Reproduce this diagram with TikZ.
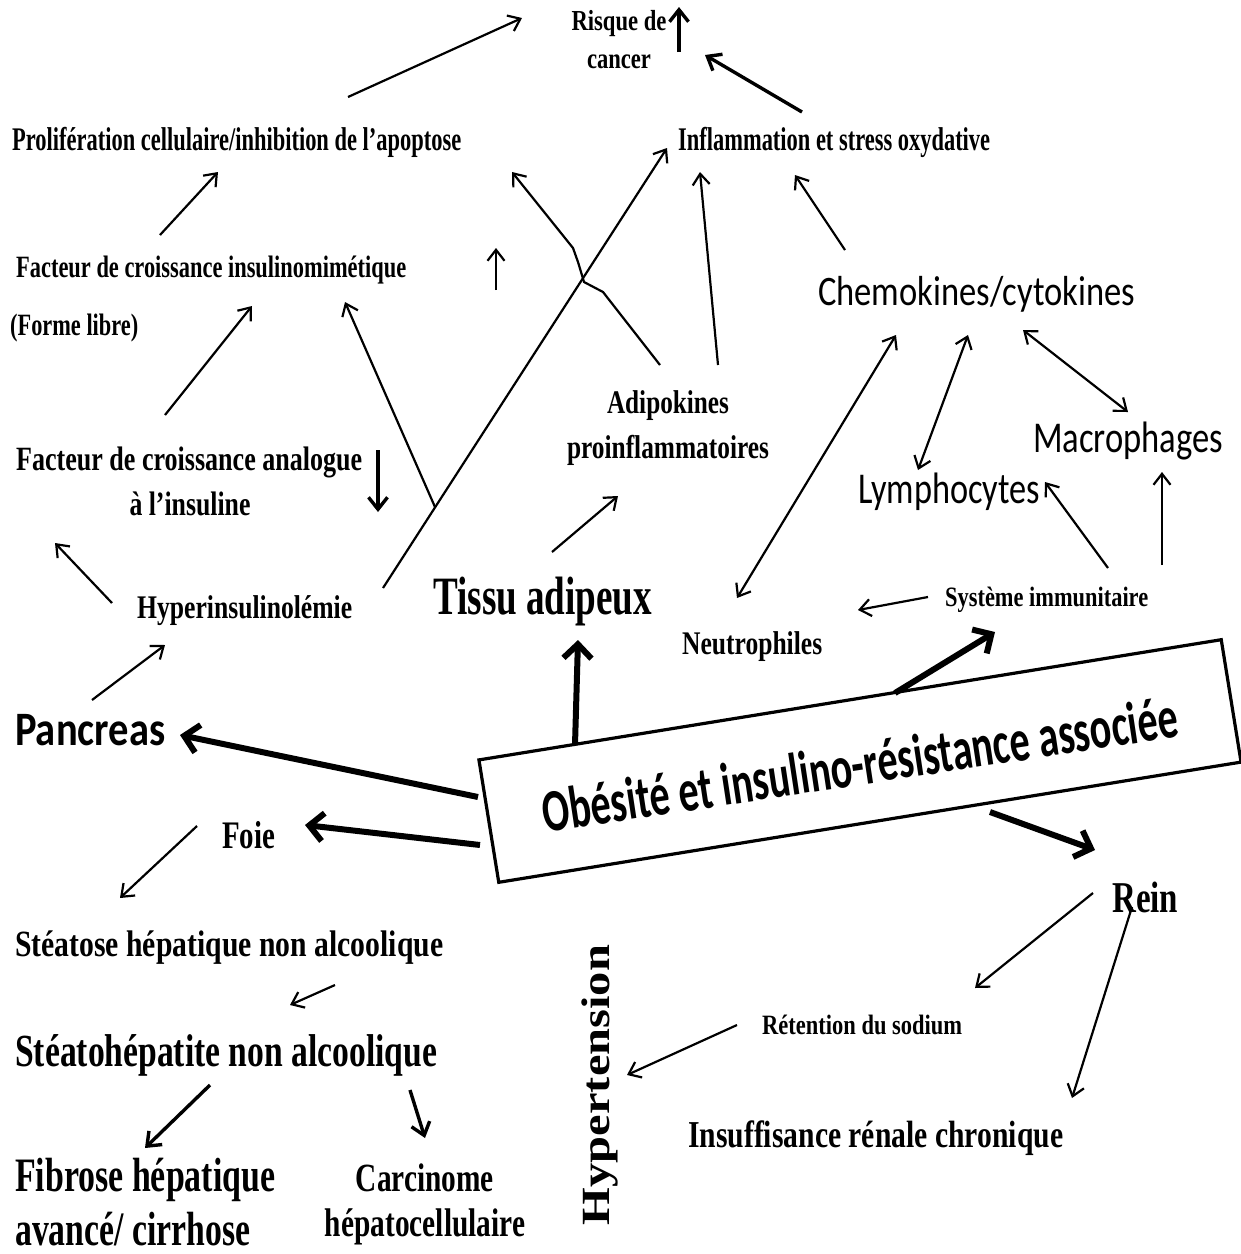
\documentclass[tikz,border=0pt]{standalone}
\usepackage{fontspec}
\usepackage{graphicx}
\setmainfont{Liberation Serif}
\newfontfamily\calib{Carlito}
\usetikzlibrary{arrows.meta}
\newcommand\fs[3]{\resizebox{#1pt}{\height}{\fontsize{#2}{#2}\selectfont\bfseries #3}}
\newcommand\fc[3]{\resizebox{#1pt}{\height}{\fontsize{#2}{#2}\selectfont\calib #3}}
\newcommand\fcb[3]{\resizebox{#1pt}{\height}{\fontsize{#2}{#2}\selectfont\calib\bfseries #3}}
\begin{document}
\begin{tikzpicture}[x=1pt,y=-1pt,
  lbl/.style={inner sep=0pt, anchor=west},
  lblc/.style={inner sep=0pt, anchor=center, align=center},
  thinar/.style={line width=2.2pt, -{Straight Barb[length=11pt,width=17pt]}},
  medar/.style={line width=3.4pt, -{Straight Barb[length=12pt,width=19pt]}},
  thickar/.style={line width=6pt, -{Straight Barb[length=14pt,width=28pt]}},
  dblar/.style={line width=2.2pt, {Straight Barb[length=11pt,width=17pt]}-{Straight Barb[length=11pt,width=17pt]}}
]
\useasboundingbox (0,0) rectangle (1241,1254);
\fill[white] (0,0) rectangle (1241,1254);

% ---------- texts ----------
\node[lblc] (risque1) at (619,24) {\fs{95}{29}{Risque de}};
\node[lblc] (risque2) at (619,62) {\fs{64}{29}{cancer}};
\node[lbl] (prolif) at (12,142) {\fs{449}{33}{Prolifération cellulaire/inhibition de l’apoptose}};
\node[lbl] (inflam) at (678,142) {\fs{312}{33}{Inflammation et stress oxydative}};
\node[lbl] (igf) at (16,270) {\fs{390}{31}{Facteur de croissance insulinomimétique}};
\node[lbl] (forme) at (10,328) {\fs{128}{31}{(Forme libre)}};
\node[lbl] (fca1) at (16,462) {\fs{346}{34}{Facteur de croissance analogue}};
\node[lblc] (fca2) at (190,504) {\fs{121}{34}{à l’insuline}};
\node[lbl] (hyper) at (137,611) {\fs{215}{33}{Hyperinsulinolémie}};
\node[lbl] (tissu) at (433,602) {\fs{219}{54}{Tissu adipeux}};
\node[lblc] (adipo1) at (668,406) {\fs{122}{33}{Adipokines}};
\node[lblc] (adipo2) at (668,450) {\fs{202}{33}{proinflammatoires}};
\node[lbl] (chemo) at (818,294) {\fc{317}{42}{Chemokines/cytokines}};
\node[lbl] (macro) at (1033,441) {\fc{190}{44}{Macrophages}};
\node[lbl] (lympho) at (858,492) {\fc{182}{44}{Lymphocytes}};
\node[lbl] (systeme) at (945,600) {\fs{203}{28}{Système immunitaire}};
\node[lbl] (neutro) at (682,647) {\fs{140}{33}{Neutrophiles}};
\node[lbl] (pancreas) at (15,730) {\fcb{150}{48}{Pancreas}};
\node[lbl] (foie) at (222,835) {\fs{53}{39}{Foie}};
\node[lbl] (steatose) at (15,948) {\fs{428}{37}{Stéatose hépatique non alcoolique}};
\node[lbl] (steatoh) at (15,1055) {\fs{422}{46}{Stéatohépatite non alcoolique}};
\node[lbl] (fibrose1) at (15,1180) {\fs{260}{48}{Fibrose hépatique}};
\node[lbl] (fibrose2) at (15,1229) {\fs{235}{48}{avancé/ cirrhose}};
\node[lblc] (carci1) at (425,1178) {\fs{138}{40}{Carcinome}};
\node[lblc] (carci2) at (425,1227) {\fs{200}{40}{hépatocellulaire}};
\node[lblc, rotate=90] (hypert) at (600,1085) {\resizebox{280pt}{\height}{\fontsize{40}{40}\selectfont\bfseries Hypertension}};
\node[lbl] (rein) at (1112,897) {\fs{66}{44}{Rein}};
\node[lbl] (retention) at (762,1025) {\fs{200}{28}{Rétention du sodium}};
\node[lbl] (insuff) at (688,1138) {\fs{375}{38}{Insuffisance rénale chronique}};

\node[draw, line width=3.2pt, rotate=9.2, minimum width=752pt, minimum height=124pt, inner sep=0pt] (box) at (860,761) {};
\node[rotate=8.6, inner sep=0pt] (boxtext) at (860,764) {\fcb{642}{60}{Obésité et insulino-résistance associée}};

% ---------- connector end points ----------
\coordinate (a1s) at (348,97);   \coordinate (a1e) at (522,18);
\coordinate (a2s) at (802,112);  \coordinate (a2e) at (705,55);
\coordinate (a3s) at (679,52);   \coordinate (a3e) at (679,7);
\coordinate (a4s) at (160,235);  \coordinate (a4e) at (218,172);
\coordinate (a5s) at (660,365);  \coordinate (a5e) at (512,172);
\coordinate (a5a) at (603,292);  \coordinate (a5b) at (584,282);
\coordinate (a5c) at (578,262);  \coordinate (a5d) at (573,248);
\coordinate (a6s) at (383,588);  \coordinate (a6e) at (667,148);
\coordinate (a7s) at (435,507);  \coordinate (a7e) at (345,302);
\coordinate (a8s) at (496,290);  \coordinate (a8e) at (496,248);
\coordinate (a9s) at (718,365);  \coordinate (a9e) at (700,172);
\coordinate (a10s) at (845,250); \coordinate (a10e) at (795,175);
\coordinate (a11s) at (896,335); \coordinate (a11e) at (737,598);
\coordinate (a12s) at (968,335); \coordinate (a12e) at (918,470);
\coordinate (a13s) at (1023,330); \coordinate (a13e) at (1128,412);
\coordinate (a14s) at (1108,568); \coordinate (a14e) at (1045,482);
\coordinate (a15s) at (1162,565); \coordinate (a15e) at (1162,472);
\coordinate (a16s) at (928,597); \coordinate (a16e) at (858,610);
\coordinate (a17s) at (552,552); \coordinate (a17e) at (618,496);
\coordinate (a18s) at (165,415); \coordinate (a18e) at (252,306);
\coordinate (a19s) at (378,450); \coordinate (a19e) at (378,512);
\coordinate (a20s) at (112,603); \coordinate (a20e) at (55,543);
\coordinate (a21s) at (92,700);  \coordinate (a21e) at (165,645);
\coordinate (a22s) at (575,745); \coordinate (a22e) at (578,640);
\coordinate (a23s) at (478,797); \coordinate (a23e) at (180,735);
\coordinate (a24s) at (480,845); \coordinate (a24e) at (305,825);
\coordinate (a25s) at (895,693); \coordinate (a25e) at (995,632);
\coordinate (a26s) at (990,812); \coordinate (a26e) at (1095,850);
\coordinate (a27s) at (197,826); \coordinate (a27e) at (120,898);
\coordinate (a28s) at (335,985); \coordinate (a28e) at (290,1005);
\coordinate (a29s) at (210,1085); \coordinate (a29e) at (145,1148);
\coordinate (a30s) at (410,1090); \coordinate (a30e) at (425,1138);
\coordinate (a31s) at (1093,893); \coordinate (a31e) at (975,988);
\coordinate (a32s) at (1132,907); \coordinate (a32e) at (1072,1098);
\coordinate (a33s) at (737,1025); \coordinate (a33e) at (627,1075);

% ---------- connectors ----------
\draw[thinar] (a1s) -- (a1e);
\draw[medar] (a2s) -- (a2e);
\draw[medar] (a3s) -- (a3e);
\draw[thinar] (a4s) -- (a4e);
\draw[thinar] (a5s) -- (a5a) -- (a5b) -- (a5c) -- (a5d) -- (a5e);
\draw[thinar] (a6s) -- (a6e);
\draw[thinar] (a7s) -- (a7e);
\draw[thinar] (a8s) -- (a8e);
\draw[thinar] (a9s) -- (a9e);
\draw[thinar] (a10s) -- (a10e);
\draw[dblar] (a11s) -- (a11e);
\draw[dblar] (a12s) -- (a12e);
\draw[dblar] (a13s) -- (a13e);
\draw[thinar] (a14s) -- (a14e);
\draw[thinar] (a15s) -- (a15e);
\draw[thinar] (a16s) -- (a16e);
\draw[thinar] (a17s) -- (a17e);
\draw[thinar] (a18s) -- (a18e);
\draw[medar] (a19s) -- (a19e);
\draw[thinar] (a20s) -- (a20e);
\draw[thinar] (a21s) -- (a21e);
\draw[thickar] (a22s) -- (a22e);
\draw[thickar] (a23s) -- (a23e);
\draw[thickar] (a24s) -- (a24e);
\draw[thickar] (a25s) -- (a25e);
\draw[thickar] (a26s) -- (a26e);
\draw[thinar] (a27s) -- (a27e);
\draw[thinar] (a28s) -- (a28e);
\draw[medar] (a29s) -- (a29e);
\draw[medar] (a30s) -- (a30e);
\draw[thinar] (a31s) -- (a31e);
\draw[thinar] (a32s) -- (a32e);
\draw[thinar] (a33s) -- (a33e);
\end{tikzpicture}
\end{document}
